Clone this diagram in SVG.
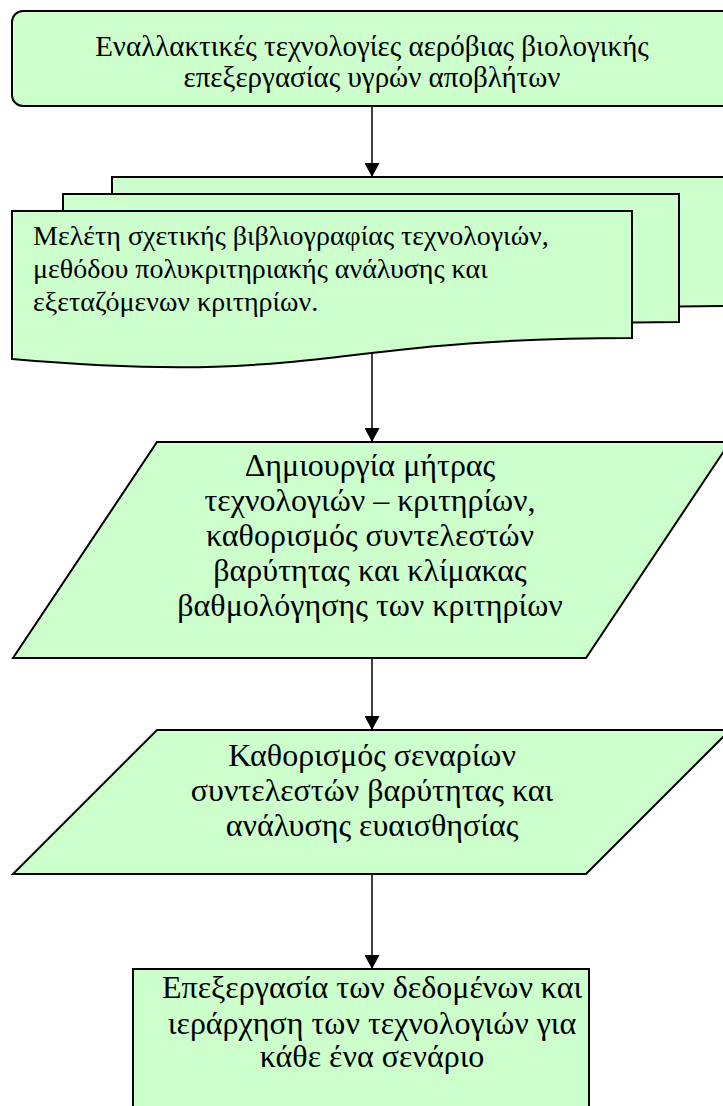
<svg xmlns="http://www.w3.org/2000/svg" width="723" height="1106" viewBox="0 0 723 1106">
<defs>
<style>
.s{fill:#CCFFCC;stroke:#000;stroke-width:2;stroke-linejoin:miter}
.t{font-family:"Liberation Serif","Times New Roman",serif;fill:#000}
.c{text-anchor:middle}
.f29{font-size:29px}
.f28{font-size:28px}
.f32{font-size:32px}
.e{stroke:#000;stroke-width:1.5;fill:none}
</style>
<marker id="ah" markerWidth="16" markerHeight="15" refX="14" refY="7.5" orient="auto" markerUnits="userSpaceOnUse">
<path d="M0,0 L14,7.5 L0,15 Z" fill="#000"/>
</marker>
</defs>
<rect width="723" height="1106" fill="#fff"/>
<g id="connectors">
<line class="e" x1="372" y1="106" x2="372" y2="177" marker-end="url(#ah)"/>
<line class="e" x1="372" y1="354" x2="372" y2="442" marker-end="url(#ah)"/>
<line class="e" x1="372" y1="658" x2="372" y2="730" marker-end="url(#ah)"/>
<line class="e" x1="372" y1="874" x2="372" y2="969" marker-end="url(#ah)"/>
</g>
<g id="n1">
<rect class="s" x="12" y="11" width="740" height="95" rx="11" ry="11"/>
<text class="t c f29" x="372" y="56">Εναλλακτικές τεχνολογίες αερόβιας βιολογικής</text>
<text class="t c f29" x="372" y="87">επεξεργασίας υγρών αποβλήτων</text>
</g>
<g id="n2">
<path class="s" d="M112,177 H732 V306 C422,306 422,354 112,343 Z"/>
<path class="s" d="M63,194 H679 V322 C371,322 371,370 63,359 Z"/>
<path class="s" d="M12,211 H632 V338 C322,338 322,386 12,359 Z"/>
<text class="t f28" x="33" y="245">Μελέτη σχετικής βιβλιογραφίας τεχνολογιών,</text>
<text class="t f28" x="33" y="278">μεθόδου πολυκριτηριακής ανάλυσης και</text>
<text class="t f28" x="33" y="311">εξεταζόμενων κριτηρίων.</text>
</g>
<g id="n3">
<path class="s" d="M157,442 H730 L586,658 H13 Z"/>
<text class="t c f32" x="370" y="476">Δημιουργία μήτρας</text>
<text class="t c f32" x="370" y="511">τεχνολογιών – κριτηρίων,</text>
<text class="t c f32" x="370" y="546">καθορισμός συντελεστών</text>
<text class="t c f32" x="370" y="581">βαρύτητας και κλίμακας</text>
<text class="t c f32" x="370" y="616">βαθμολόγησης των κριτηρίων</text>
</g>
<g id="n4">
<path class="s" d="M157,730 H730 L586,874 H13 Z"/>
<text class="t c f32" x="372" y="766">Καθορισμός σεναρίων</text>
<text class="t c f32" x="372" y="801">συντελεστών βαρύτητας και</text>
<text class="t c f32" x="372" y="836">ανάλυσης ευαισθησίας</text>
</g>
<g id="n5">
<rect class="s" x="133" y="969" width="456" height="150"/>
<text class="t c f32" x="372" y="998">Επεξεργασία των δεδομένων και</text>
<text class="t c f32" x="372" y="1034">ιεράρχηση των τεχνολογιών για</text>
<text class="t c f32" x="372" y="1067">κάθε ένα σενάριο</text>
</g>
</svg>
